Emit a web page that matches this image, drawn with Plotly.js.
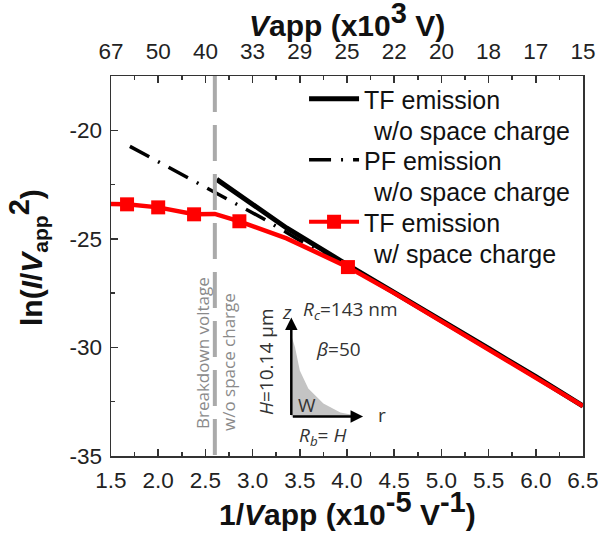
<!DOCTYPE html>
<html><head><meta charset="utf-8">
<script src="https://cdn.plot.ly/plotly-3.0.1.min.js"></script>
<style>html,body{margin:0;padding:0;background:#fff}</style></head>
<body><div id="chart" style="width:603px;height:534px"></div>
<script>
const tickX = [1.5,2,2.5,3,3.5,4,4.5,5,5.5,6,6.5];
const tickXLabels = ['1.5','2.0','2.5','3.0','3.5','4.0','4.5','5.0','5.5','6.0','6.5'];
const topLabels = ['67','50','40','33','29','25','22','20','18','17','15'];
const tfX = [2.62,2.87,3.36,3.93,4.5,5,5.5,6,6.5];
const tfY = [-22.26,-23.0,-24.5,-26.0,-27.45,-28.75,-30.05,-31.35,-32.7];
const pfX = [1.7,3.11,3.5,4.0];
const pfY = [-20.74,-24.06,-25.07,-26.3];
const tfScX = [1.5,1.67,2.0,2.38,2.6,2.86,3.36,4.01,4.5,5,5.5,6,6.5];
const tfScY = [-23.4,-23.41,-23.55,-23.87,-23.85,-24.19,-24.98,-26.3,-27.5,-28.8,-30.1,-31.4,-32.7];
const markX = [1.67,2.0,2.38,2.86,4.01];
const markY = [-23.41,-23.55,-23.87,-24.19,-26.3];
const breakdownX = [2.6,2.6];
const breakdownY = [-17.5,-35];
const tipX = [3.41,3.45,3.50,3.59,3.75,3.93,4.11,3.41];
const tipY = [-29.45,-30.0,-31.06,-31.89,-32.58,-33.0,-33.15,-33.18];

const L = 111, W = 472, T = 76, H = 380;
const ax = {showline:true,linecolor:'#333',linewidth:1.5,ticks:'inside',ticklen:7,tickwidth:1.5,tickcolor:'#333',
  showgrid:false,zeroline:false,tickfont:{family:'Liberation Sans',size:22.5,color:'#222'},
  minor:{ticks:'inside',ticklen:4,tickwidth:1.5,tickcolor:'#333',showgrid:false}};
const xMinor = Object.assign({},ax.minor,{dtick:0.25,tick0:1.5});
const text = (px,py,t,o={}) => Object.assign({x:(px-L)/W,y:(T+H-py)/H,text:t,xref:'paper',yref:'paper',showarrow:false,xanchor:'center',yanchor:'middle',
  font:{family:'Open Sans',size:19,color:'#333'}},o);
const legendText = {family:'Liberation Sans',size:25,color:'#111'};
const legendBox = py => ({x:0.409,y:(T+H-py)/H,xanchor:'left',yanchor:'middle',bgcolor:'rgba(0,0,0,0)',itemwidth:50,font:legendText});
const titleFont = {family:'Liberation Sans',size:30,color:'#111'};
const big = s => '<span style="font-size:29px">'+s+'</span>';
const traces = [
 {x:breakdownX,y:breakdownY,xaxis:'x2',mode:'lines',line:{color:'#aaaaaa',width:4,dash:'36px,13px'},showlegend:false,hoverinfo:'skip'},
 {x:tipX,y:tipY,mode:'lines',fill:'toself',fillcolor:'#c4c4c4',line:{width:0},showlegend:false,hoverinfo:'skip'},
 {x:tfX,y:tfY,mode:'lines',name:'TF emission',legend:'legend',line:{color:'#000',width:5}},
 {x:pfX,y:pfY,mode:'lines',name:'PF emission',legend:'legend2',line:{color:'#000',width:3.5,dash:'22px,10px,2px,10px'}},
 {x:tfScX,y:tfScY,mode:'lines',showlegend:false,line:{color:'#ff0000',width:4.5}},
 {x:markX,y:markY,mode:'markers',showlegend:false,marker:{symbol:'square',size:14,color:'#ff0000'}},
 {x:[null],y:[null],mode:'lines+markers',name:'TF emission',legend:'legend3',line:{color:'#ff0000',width:4},marker:{symbol:'square',size:14,color:'#ff0000'}}
];
const layout = {
 width:603,height:534,paper_bgcolor:'#fff',plot_bgcolor:'#fff',showlegend:true,
 margin:{l:L,r:20,t:T,b:78,pad:0},
 xaxis:Object.assign({},ax,{range:[1.5,6.5],tickvals:tickX,ticktext:tickXLabels,ticklabelstandoff:3,minor:xMinor}),
 xaxis2:Object.assign({},ax,{range:[1.5,6.5],overlaying:'x',side:'top',anchor:'y',tickvals:tickX,ticktext:topLabels,ticklabelstandoff:7,minor:xMinor}),
 yaxis:Object.assign({},ax,{range:[-35,-17.5],mirror:true,tickvals:[-35,-30,-25,-20],ticktext:['-35','-30','-25','-20'],ticklabelstandoff:3,minor:Object.assign({},ax.minor,{dtick:2.5,tick0:-35})}),
 legend:legendBox(99),legend2:legendBox(160),legend3:legendBox(222),
 annotations:[
  text(371,131,'w/o space charge',{xanchor:'left',font:legendText}),
  text(371,192,'w/o space charge',{xanchor:'left',font:legendText}),
  text(371,254,'w/ space charge',{xanchor:'left',font:legendText}),
  text(347,20,'<b><i>V</i>app (x10<sup>'+big('3')+'</sup> V)</b>',{font:titleFont}),
  text(347,509,'<b>1/<i>V</i>app (x10<sup>'+big('-5')+'</sup> V<sup>'+big('-1')+'</sup>)</b>',{font:titleFont}),
  text(27,258,'<b>ln(<i>I</i>/<i>V</i><sub>app</sub><sup>'+big('2')+'</sup>)</b>',{textangle:-90,font:titleFont}),
  text(202,353,'Breakdown voltage',{textangle:-90,font:{family:'Open Sans',size:17,color:'#8a8a8a'}}),
  text(228,362,'w/o space charge',{textangle:-90,font:{family:'Open Sans',size:17,color:'#8a8a8a'}}),
  text(266,362,'<i>H</i>=10.14 µm',{textangle:-90}),
  text(287,312,'<i>z</i>'),
  text(350,310,'<i>R<sub>c</sub></i>=143 nm'),
  text(338,349,'<i>β</i>=50'),
  text(307,405,'W'),
  text(382,415,'r'),
  text(322,436,'<i>R<sub>b</sub></i>= <i>H</i>'),
  {x:3.41,y:-28.62,ax:3.41,ay:-33.18,xref:'x',yref:'y',axref:'x',ayref:'y',text:'',showarrow:true,arrowhead:2,arrowsize:1,arrowwidth:2.5,arrowcolor:'#000'},
  {x:4.17,y:-33.18,ax:3.41,ay:-33.18,xref:'x',yref:'y',axref:'x',ayref:'y',text:'',showarrow:true,arrowhead:2,arrowsize:1,arrowwidth:2.5,arrowcolor:'#000'}
 ]
};
Plotly.newPlot('chart',traces,layout,{displayModeBar:false,staticPlot:true});
</script></body></html>
